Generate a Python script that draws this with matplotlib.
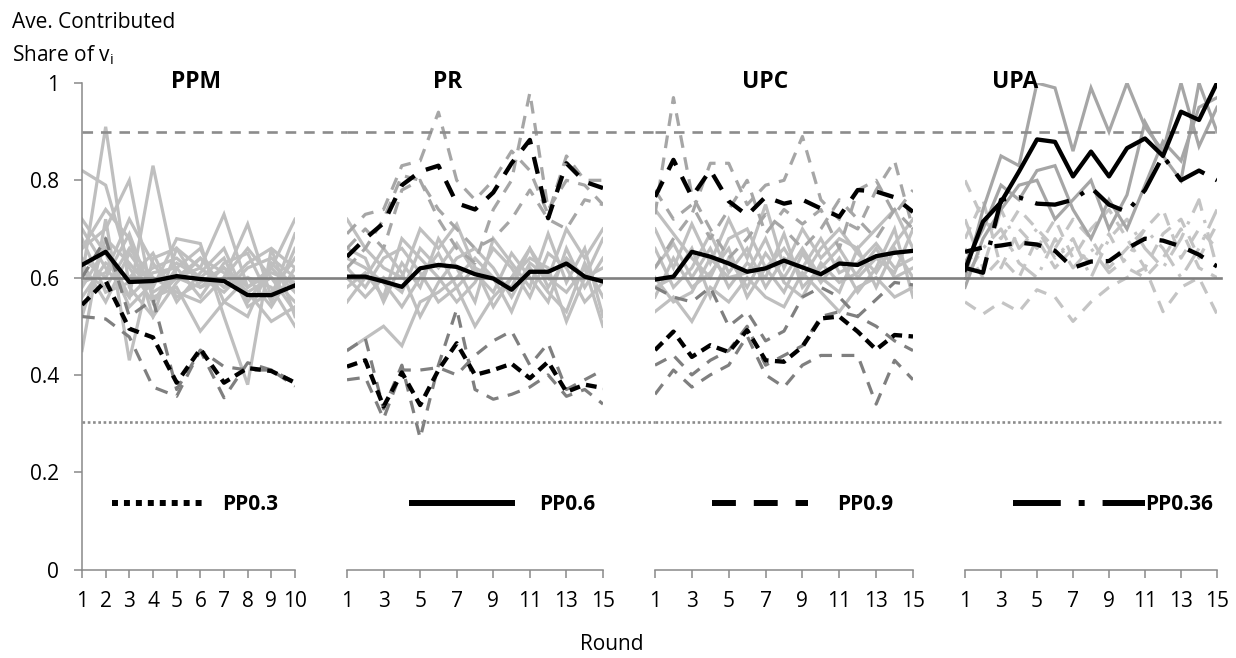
import matplotlib.pyplot as plt
from matplotlib.lines import Line2D

plt.rcParams['font.family'] = ['Open Sans', 'DejaVu Sans']

# ---- data ----
ppm_rounds = list(range(1, 11))
rounds_15 = list(range(1, 16))
panel_names = ["PPM", "PR", "UPC", "UPA"]
y_ticks = [0, 0.2, 0.4, 0.6, 0.8, 1.0]
y_tick_labels = ["0", "0.2", "0.4", "0.6", "0.8", "1"]
ref_levels = [0.9, 0.6, 0.303]
legend_labels = ["PP0.3", "PP0.6", "PP0.9", "PP0.36"]

# PPM
ppm_avg_06 = [0.626, 0.653, 0.591, 0.593, 0.603, 0.597, 0.593, 0.564, 0.564, 0.584]
ppm_avg_03 = [0.544, 0.593, 0.495, 0.477, 0.384, 0.453, 0.384, 0.414, 0.408, 0.384]
ppm_ind_03 = [
    [0.52, 0.515, 0.478, 0.375, 0.356, 0.451, 0.417, 0.41, 0.41, 0.377],
    [0.60, 0.68, 0.52, 0.555, 0.37, 0.45, 0.353, 0.425, 0.41, 0.385],
]
ppm_ind_06 = [
    [0.82, 0.79, 0.62, 0.55, 0.60, 0.58, 0.62, 0.57, 0.60, 0.55],
    [0.60, 0.91, 0.58, 0.52, 0.66, 0.62, 0.58, 0.60, 0.54, 0.62],
    [0.66, 0.70, 0.80, 0.55, 0.62, 0.66, 0.55, 0.52, 0.63, 0.58],
    [0.70, 0.62, 0.56, 0.83, 0.60, 0.62, 0.73, 0.58, 0.62, 0.72],
    [0.45, 0.72, 0.43, 0.64, 0.66, 0.58, 0.60, 0.71, 0.56, 0.69],
    [0.63, 0.55, 0.65, 0.58, 0.68, 0.67, 0.52, 0.38, 0.66, 0.52],
    [0.58, 0.66, 0.56, 0.61, 0.62, 0.56, 0.63, 0.65, 0.55, 0.66],
    [0.64, 0.60, 0.69, 0.56, 0.58, 0.49, 0.55, 0.60, 0.58, 0.50],
    [0.56, 0.63, 0.60, 0.65, 0.55, 0.61, 0.66, 0.55, 0.62, 0.57],
    [0.68, 0.57, 0.59, 0.62, 0.64, 0.60, 0.57, 0.62, 0.64, 0.60],
    [0.52, 0.68, 0.63, 0.57, 0.60, 0.64, 0.61, 0.57, 0.51, 0.54],
    [0.61, 0.58, 0.66, 0.60, 0.57, 0.55, 0.60, 0.66, 0.60, 0.53],
    [0.72, 0.65, 0.54, 0.59, 0.63, 0.60, 0.64, 0.54, 0.57, 0.64],
    [0.66, 0.74, 0.68, 0.52, 0.59, 0.64, 0.58, 0.63, 0.66, 0.62],
    [0.59, 0.61, 0.72, 0.63, 0.56, 0.59, 0.62, 0.58, 0.61, 0.59],
]

# PR
pr_avg_06 = [0.602, 0.602, 0.592, 0.581, 0.619, 0.626, 0.622, 0.607, 0.598, 0.575, 0.612, 0.612, 0.629, 0.602, 0.592]
pr_avg_09 = [0.643, 0.68, 0.712, 0.79, 0.818, 0.83, 0.753, 0.74, 0.775, 0.835, 0.883, 0.722, 0.835, 0.797, 0.784]
pr_avg_03 = [0.417, 0.43, 0.335, 0.405, 0.338, 0.41, 0.465, 0.40, 0.41, 0.423, 0.393, 0.427, 0.365, 0.38, 0.373]
pr_ind_09 = [
    [0.69, 0.73, 0.74, 0.83, 0.84, 0.94, 0.80, 0.76, 0.80, 0.86, 0.82, 0.73, 0.85, 0.80, 0.80],
    [0.66, 0.70, 0.66, 0.78, 0.80, 0.72, 0.66, 0.63, 0.74, 0.80, 0.98, 0.74, 0.80, 0.79, 0.75],
    [0.62, 0.66, 0.72, 0.81, 0.80, 0.74, 0.70, 0.66, 0.68, 0.72, 0.78, 0.72, 0.70, 0.76, 0.75],
]
pr_ind_03 = [
    [0.39, 0.395, 0.31, 0.41, 0.41, 0.415, 0.40, 0.44, 0.47, 0.49, 0.42, 0.465, 0.37, 0.39, 0.41],
    [0.45, 0.475, 0.33, 0.42, 0.27, 0.42, 0.535, 0.37, 0.35, 0.36, 0.375, 0.40, 0.356, 0.37, 0.34],
]
pr_ind_06 = [
    [0.72, 0.66, 0.62, 0.60, 0.70, 0.66, 0.71, 0.62, 0.60, 0.58, 0.66, 0.60, 0.70, 0.64, 0.70],
    [0.66, 0.64, 0.55, 0.63, 0.58, 0.68, 0.62, 0.55, 0.68, 0.63, 0.58, 0.69, 0.59, 0.66, 0.52],
    [0.45, 0.475, 0.50, 0.46, 0.55, 0.57, 0.60, 0.64, 0.60, 0.53, 0.62, 0.57, 0.53, 0.63, 0.56],
    [0.62, 0.58, 0.64, 0.66, 0.61, 0.55, 0.58, 0.50, 0.56, 0.60, 0.64, 0.62, 0.51, 0.60, 0.62],
    [0.58, 0.61, 0.56, 0.68, 0.64, 0.60, 0.55, 0.59, 0.66, 0.62, 0.56, 0.65, 0.62, 0.55, 0.59],
    [0.60, 0.56, 0.60, 0.57, 0.66, 0.62, 0.67, 0.61, 0.57, 0.65, 0.60, 0.55, 0.66, 0.58, 0.64],
    [0.55, 0.60, 0.66, 0.61, 0.52, 0.59, 0.64, 0.66, 0.62, 0.56, 0.63, 0.60, 0.57, 0.62, 0.50],
    [0.64, 0.62, 0.59, 0.54, 0.60, 0.65, 0.58, 0.62, 0.54, 0.60, 0.66, 0.58, 0.64, 0.60, 0.68],
]

# UPC
upc_avg_06 = [0.596, 0.602, 0.653, 0.643, 0.629, 0.612, 0.619, 0.635, 0.621, 0.607, 0.629, 0.626, 0.644, 0.651, 0.655]
upc_avg_09 = [0.766, 0.842, 0.766, 0.821, 0.757, 0.728, 0.766, 0.752, 0.76, 0.742, 0.725, 0.78, 0.777, 0.765, 0.735]
upc_avg_03 = [0.451, 0.489, 0.437, 0.461, 0.447, 0.492, 0.43, 0.427, 0.458, 0.516, 0.52, 0.489, 0.452, 0.482, 0.479]
upc_ind_09 = [
    [0.73, 0.97, 0.77, 0.70, 0.64, 0.68, 0.73, 0.70, 0.66, 0.70, 0.76, 0.72, 0.68, 0.74, 0.70],
    [0.62, 0.68, 0.73, 0.835, 0.835, 0.75, 0.79, 0.80, 0.89, 0.76, 0.72, 0.70, 0.78, 0.84, 0.70],
    [0.78, 0.72, 0.75, 0.68, 0.74, 0.80, 0.69, 0.74, 0.71, 0.74, 0.66, 0.78, 0.80, 0.73, 0.78],
]
upc_ind_03 = [
    [0.36, 0.41, 0.375, 0.40, 0.42, 0.48, 0.40, 0.375, 0.42, 0.44, 0.44, 0.44, 0.34, 0.43, 0.39],
    [0.42, 0.44, 0.40, 0.43, 0.45, 0.50, 0.42, 0.44, 0.46, 0.52, 0.53, 0.52, 0.50, 0.47, 0.45],
    [0.58, 0.56, 0.55, 0.58, 0.50, 0.53, 0.47, 0.49, 0.56, 0.58, 0.56, 0.52, 0.555, 0.59, 0.585],
]
upc_ind_06 = [
    [0.70, 0.62, 0.71, 0.63, 0.72, 0.64, 0.75, 0.62, 0.70, 0.64, 0.68, 0.66, 0.70, 0.74, 0.66],
    [0.53, 0.56, 0.51, 0.58, 0.55, 0.60, 0.56, 0.54, 0.61, 0.57, 0.53, 0.58, 0.60, 0.56, 0.58],
    [0.62, 0.67, 0.60, 0.66, 0.58, 0.63, 0.60, 0.69, 0.58, 0.62, 0.66, 0.60, 0.64, 0.61, 0.70],
    [0.58, 0.60, 0.66, 0.56, 0.64, 0.58, 0.65, 0.60, 0.66, 0.60, 0.57, 0.66, 0.58, 0.66, 0.60],
    [0.66, 0.58, 0.62, 0.69, 0.61, 0.66, 0.58, 0.64, 0.62, 0.68, 0.61, 0.63, 0.67, 0.62, 0.64],
    [0.56, 0.64, 0.58, 0.61, 0.66, 0.56, 0.62, 0.57, 0.65, 0.59, 0.64, 0.57, 0.62, 0.70, 0.56],
    [0.74, 0.69, 0.64, 0.60, 0.68, 0.70, 0.62, 0.66, 0.60, 0.66, 0.70, 0.65, 0.61, 0.67, 0.72],
    [0.60, 0.55, 0.57, 0.64, 0.60, 0.61, 0.68, 0.59, 0.56, 0.63, 0.59, 0.61, 0.66, 0.60, 0.62],
]

# UPA
upa_avg_solid = [0.616, 0.715, 0.755, 0.818, 0.884, 0.879, 0.808, 0.859, 0.808, 0.866, 0.886, 0.85, 0.941, 0.924, 1.0]
upa_avg_dashdot = [0.62, 0.61, 0.76, 0.765, 0.752, 0.75, 0.76, 0.785, 0.75, 0.735, 0.78, 0.85, 0.80, 0.82, 0.80]
upa_avg_dashed = [0.653, 0.662, 0.666, 0.672, 0.668, 0.655, 0.62, 0.633, 0.634, 0.66, 0.68, 0.676, 0.664, 0.647, 0.623]
upa_ind_solid = [
    [0.60, 0.74, 0.85, 0.83, 1.00, 0.99, 0.86, 0.99, 0.90, 1.00, 0.91, 0.86, 1.00, 0.87, 0.95],
    [0.58, 0.68, 0.74, 0.79, 0.80, 0.72, 0.76, 0.80, 0.70, 0.77, 0.92, 0.85, 0.80, 1.00, 0.90],
    [0.63, 0.70, 0.79, 0.76, 0.82, 0.83, 0.74, 0.68, 0.76, 0.70, 0.79, 0.88, 0.84, 0.95, 0.97],
]
upa_ind_dashed = [
    [0.55, 0.525, 0.55, 0.53, 0.575, 0.56, 0.51, 0.55, 0.58, 0.60, 0.62, 0.53, 0.58, 0.60, 0.525],
    [0.80, 0.72, 0.68, 0.74, 0.70, 0.66, 0.72, 0.68, 0.62, 0.66, 0.70, 0.74, 0.64, 0.70, 0.66],
    [0.68, 0.76, 0.62, 0.70, 0.66, 0.72, 0.64, 0.70, 0.74, 0.68, 0.62, 0.69, 0.72, 0.64, 0.71],
    [0.66, 0.60, 0.64, 0.60, 0.68, 0.62, 0.66, 0.63, 0.69, 0.62, 0.60, 0.64, 0.70, 0.62, 0.60],
]
upa_ind_dashdot = [
    [0.72, 0.62, 0.74, 0.66, 0.70, 0.64, 0.68, 0.60, 0.68, 0.72, 0.66, 0.62, 0.68, 0.76, 0.62],
    [0.60, 0.66, 0.70, 0.63, 0.60, 0.68, 0.62, 0.66, 0.61, 0.64, 0.70, 0.66, 0.60, 0.66, 0.74],
]

# ---- styles ----
AXIS_GREY = '#898989'
DASH = (0, (4, 3))
DOT = (0, (1, 1))
SHORT_DASH = (0, (2.5, 1.5))
LONG_DASH_DOT = (0, (8, 3, 1, 3))
GREY_LW = 2.3
BLACK_LW = 3.1

fig = plt.figure(figsize=(12.36, 6.58), dpi=100)

W, H = 1236.0, 658.0
bottom = 88.5 / H
height = 486.5 / H
# panel left edge and width in pixels, plus where the reference lines stop
panel_px = [(82, 213), (347, 256), (655, 258), (965, 252)]
ref_end_px = [347, 655, 965, 1221]
title_px = [196, 448, 765, 1015]

axes = []
for i, (left, width) in enumerate(panel_px):
    ax = fig.add_axes([left / W, bottom, width / W, height])
    ax.set_facecolor('none')
    ax.set_ylim(0, 1)
    for s in ['top', 'right']:
        ax.spines[s].set_visible(False)
    ax.spines['bottom'].set_color(AXIS_GREY)
    ax.spines['bottom'].set_linewidth(1.1)
    ax.spines['left'].set_color(AXIS_GREY)
    ax.spines['left'].set_linewidth(1.1)
    ax.tick_params(axis='x', direction='out', length=5.5, width=1.1, color=AXIS_GREY,
                   labelsize=15, pad=10)
    ax.tick_params(axis='y', direction='out', length=5.5, width=1.1, color=AXIS_GREY,
                   labelsize=15, pad=11)
    if i == 0:
        ax.set_yticks(y_ticks)
        ax.set_yticklabels(y_tick_labels)
    else:
        ax.spines['left'].set_visible(False)
        ax.set_yticks([])
    ext = (ref_end_px[i] - left) / width
    ext_dash = (1215 - left) / width if i == 3 else ext
    ax.axhline(ref_levels[0], xmin=0, xmax=ext_dash, color='#8c8c8c', lw=1.9, ls=DASH,
               clip_on=False, zorder=2.5)
    ax.axhline(ref_levels[1], xmin=0, xmax=ext, color='#808080', lw=1.9, clip_on=False, zorder=2.5)
    ax.axhline(ref_levels[2], xmin=0, xmax=ext, color='#8c8c8c', lw=1.9, ls=DOT,
               clip_on=False, zorder=2.5)
    ax.text((title_px[i] - left) / width, 0.99, panel_names[i], transform=ax.transAxes,
            ha='center', va='baseline', fontsize=16.5, fontweight='bold')
    axes.append(ax)

ax_ppm, ax_pr, ax_upc, ax_upa = axes


def draw_group(ax, x, lines, color, ls, lw=GREY_LW, z=2):
    for vals in lines:
        ax.plot(x, vals, color=color, lw=lw, ls=ls, zorder=z, solid_joinstyle='miter')


# PPM
ax_ppm.set_xlim(1, 10)
ax_ppm.set_xticks(ppm_rounds)
draw_group(ax_ppm, ppm_rounds, ppm_ind_06, '#bfbfbf', '-')
draw_group(ax_ppm, ppm_rounds, ppm_ind_03, '#7f7f7f', DASH)
ax_ppm.plot(ppm_rounds, ppm_avg_06, color='black', lw=BLACK_LW, zorder=3)
ax_ppm.plot(ppm_rounds, ppm_avg_03, color='black', lw=BLACK_LW, ls=SHORT_DASH, zorder=3)

for ax in (ax_pr, ax_upc, ax_upa):
    ax.set_xlim(1, 15)
    ax.set_xticks(rounds_15[::2])

# PR
draw_group(ax_pr, rounds_15, pr_ind_06, '#bfbfbf', '-')
draw_group(ax_pr, rounds_15, pr_ind_09, '#a6a6a6', DASH)
draw_group(ax_pr, rounds_15, pr_ind_03, '#7f7f7f', DASH)
ax_pr.plot(rounds_15, pr_avg_06, color='black', lw=BLACK_LW, zorder=3)
ax_pr.plot(rounds_15, pr_avg_09, color='black', lw=BLACK_LW, ls=DASH, zorder=3)
ax_pr.plot(rounds_15, pr_avg_03, color='black', lw=BLACK_LW, ls=SHORT_DASH, zorder=3)

# UPC
draw_group(ax_upc, rounds_15, upc_ind_06, '#bfbfbf', '-')
draw_group(ax_upc, rounds_15, upc_ind_09, '#a6a6a6', DASH)
draw_group(ax_upc, rounds_15, upc_ind_03, '#7f7f7f', DASH)
ax_upc.plot(rounds_15, upc_avg_06, color='black', lw=BLACK_LW, zorder=3)
ax_upc.plot(rounds_15, upc_avg_09, color='black', lw=BLACK_LW, ls=DASH, zorder=3)
ax_upc.plot(rounds_15, upc_avg_03, color='black', lw=BLACK_LW, ls=SHORT_DASH, zorder=3)

# UPA
draw_group(ax_upa, rounds_15, upa_ind_dashed, '#c4c4c4', DASH)
draw_group(ax_upa, rounds_15, upa_ind_dashdot, '#c4c4c4', LONG_DASH_DOT)
draw_group(ax_upa, rounds_15, upa_ind_solid, '#a6a6a6', '-')
ax_upa.plot(rounds_15, upa_avg_dashed, color='black', lw=BLACK_LW, ls=DASH, zorder=3)
ax_upa.plot(rounds_15, upa_avg_dashdot, color='black', lw=BLACK_LW, ls=LONG_DASH_DOT, zorder=3)
ax_upa.plot(rounds_15, upa_avg_solid, color='black', lw=BLACK_LW, zorder=3)

# legend entries, one per panel
legend_styles = [DOT, '-', DASH, LONG_DASH_DOT]
legend_start_px = [112, 412, 712, 1013]
legend_len_px = [90, 100, 96, 132]
legend_pad_px = [20, 27, 29, 0]
fs_px = 15 * 100 / 72.0
for i, ax in enumerate(axes):
    h = Line2D([], [], color='black', lw=4.3, ls=legend_styles[i])
    ax.legend([h], [legend_labels[i]], loc='center left',
              bbox_to_anchor=(legend_start_px[i] / W, 1 - 505 / H),
              bbox_transform=fig.transFigure, frameon=False, borderpad=0,
              borderaxespad=0, handlelength=legend_len_px[i] / fs_px,
              handletextpad=legend_pad_px[i] / fs_px,
              prop={'weight': 'bold', 'size': 15})

fig.text(12 / W, 1 - 28 / H, "Ave. Contributed", fontsize=15, va='baseline')
fig.text(12 / W, 1 - 61 / H, r"Share of v$_\mathregular{i}$", fontsize=15, va='baseline')
fig.text(612 / W, 1 - 650 / H, "Round", fontsize=15, ha='center', va='baseline')

fig.savefig('out.png', dpi=100)
